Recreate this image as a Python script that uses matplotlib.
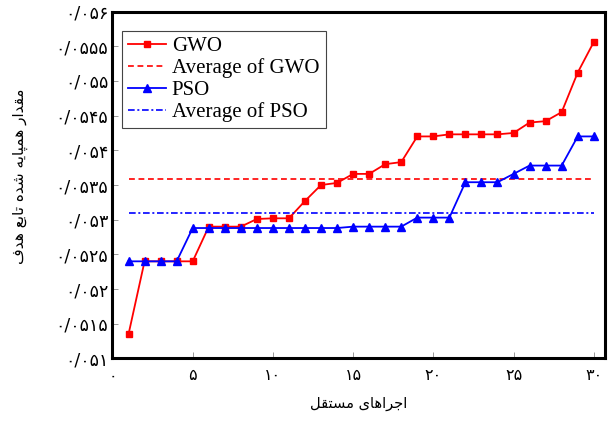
import numpy as np
import matplotlib
matplotlib.use("Agg")
import matplotlib.pyplot as plt

# ---------------- data ----------------
runs = list(range(1, 31))
gwo = [0.05135, 0.0524, 0.0524, 0.0524, 0.0524, 0.0529, 0.0529, 0.0529, 0.05301, 0.05302,
       0.05302, 0.05327, 0.0535, 0.05353, 0.05366, 0.05366, 0.0538, 0.05383, 0.0542, 0.0542,
       0.05423, 0.05423, 0.05423, 0.05423, 0.05425, 0.0544, 0.05442, 0.05455, 0.05512, 0.05556]
pso = [0.0524, 0.0524, 0.0524, 0.0524, 0.05288, 0.05288, 0.05288, 0.05288, 0.05288, 0.05288,
       0.05288, 0.05288, 0.05288, 0.05288, 0.0529, 0.0529, 0.0529, 0.0529, 0.05303, 0.05303,
       0.05303, 0.05354, 0.05354, 0.05354, 0.05366, 0.05378, 0.05378, 0.05378, 0.0542, 0.0542]
series_labels = ["GWO", "Average of GWO", "PSO", "Average of PSO"]
x_ticks = [0, 5, 10, 15, 20, 25, 30]
x_tick_labels = ["۰", "۵", "۱۰", "۱۵", "۲۰", "۲۵", "۳۰"]
y_ticks = [0.051, 0.0515, 0.052, 0.0525, 0.053, 0.0535, 0.054, 0.0545, 0.055, 0.0555, 0.056]
y_tick_labels = ["۰/۰۵۱", "۰/۰۵۱۵", "۰/۰۵۲", "۰/۰۵۲۵", "۰/۰۵۳", "۰/۰۵۳۵",
                 "۰/۰۵۴", "۰/۰۵۴۵", "۰/۰۵۵", "۰/۰۵۵۵", "۰/۰۵۶"]
x_label = "اجراهای مستقل"
y_label = "مقدار همپایه شده تابع هدف"

# ------------- simple Persian shaping (matplotlib has no RTL shaping) -------------
FORMS = {  # isolated, final, initial, medial
    'ا': ('\uFE8D', '\uFE8E', None, None),
    'ب': ('\uFE8F', '\uFE90', '\uFE91', '\uFE92'),
    'پ': ('\uFB56', '\uFB57', '\uFB58', '\uFB59'),
    'ت': ('\uFE95', '\uFE96', '\uFE97', '\uFE98'),
    'ج': ('\uFE9D', '\uFE9E', '\uFE9F', '\uFEA0'),
    'د': ('\uFEA9', '\uFEAA', None, None),
    'ر': ('\uFEAD', '\uFEAE', None, None),
    'س': ('\uFEB1', '\uFEB2', '\uFEB3', '\uFEB4'),
    'ش': ('\uFEB5', '\uFEB6', '\uFEB7', '\uFEB8'),
    'ع': ('\uFEC9', '\uFECA', '\uFECB', '\uFECC'),
    'ف': ('\uFED1', '\uFED2', '\uFED3', '\uFED4'),
    'ق': ('\uFED5', '\uFED6', '\uFED7', '\uFED8'),
    'ل': ('\uFEDD', '\uFEDE', '\uFEDF', '\uFEE0'),
    'م': ('\uFEE1', '\uFEE2', '\uFEE3', '\uFEE4'),
    'ه': ('\uFEE9', '\uFEEA', '\uFEEB', '\uFEEC'),
    'ی': ('\uFBFC', '\uFBFD', '\uFBFE', '\uFBFF'),
}


def shape(s):
    out = []
    for i, ch in enumerate(s):
        if ch not in FORMS:
            out.append(ch)
            continue
        prev = s[i - 1] if i > 0 else None
        nxt = s[i + 1] if i + 1 < len(s) else None
        jp = prev in FORMS and FORMS[prev][2] is not None
        jn = FORMS[ch][2] is not None and nxt in FORMS
        iso, fin, ini, med = FORMS[ch]
        if jp and jn:
            out.append(med)
        elif jp:
            out.append(fin)
        elif jn:
            out.append(ini)
        else:
            out.append(iso)
    return "".join(out)[::-1]


# ---------------- plot ----------------
fig = plt.figure(figsize=(6.09, 4.25), dpi=100)
ax = fig.add_axes([0.1847, 0.1565, 0.8087, 0.8164])

red = "#ff0000"
blue = "#0000ff"
ax.plot(runs, gwo, color=red, lw=1.3, marker="s", ms=4.5, label=series_labels[0])
ax.plot([runs[0], runs[-1]], [np.mean(gwo)] * 2, color=red, lw=1.2,
        linestyle=(0, (3.5, 2.2)), label=series_labels[1])
ax.plot(runs, pso, color=blue, lw=1.3, marker="^", ms=6, label=series_labels[2])
ax.plot([runs[0], runs[-1]], [np.mean(pso)] * 2, color=blue, lw=1.2,
        linestyle=(0, (4, 1.6, 1.2, 1.6)), label=series_labels[3])

ax.set_xlim(0, 30.7)
ax.set_ylim(0.051, 0.056)
ax.set_xticks(x_ticks)
ax.set_xticklabels(x_tick_labels, family="DejaVu Sans", fontsize=11.5)
ax.set_yticks(y_ticks)
ax.set_yticklabels(y_tick_labels, family="DejaVu Sans", fontsize=12.5)
ax.tick_params(direction="in", length=4, width=0.6, color="#888888")
ax.tick_params(axis="y", pad=3)
ax.tick_params(axis="x", pad=7)
for sp in ax.spines.values():
    sp.set_linewidth(2.2)

ax.set_xlabel(shape(x_label), family="DejaVu Sans", fontsize=10.5)
ax.xaxis.set_label_coords(0.5, -0.108)
ax.set_ylabel(shape(y_label), family="DejaVu Sans", fontsize=11)
ax.yaxis.set_label_coords(-0.172, 0.525)

leg = ax.legend(loc="upper left", bbox_to_anchor=(0.019, 0.945),
                prop={"family": "Liberation Serif", "size": 15},
                handlelength=1.8, handletextpad=0.3, labelspacing=0.1,
                borderpad=0.3, borderaxespad=0.0, fancybox=False, framealpha=1)
leg.get_frame().set_edgecolor("#444444")
leg.get_frame().set_linewidth(0.8)

fig.savefig("out.png", dpi=100)
